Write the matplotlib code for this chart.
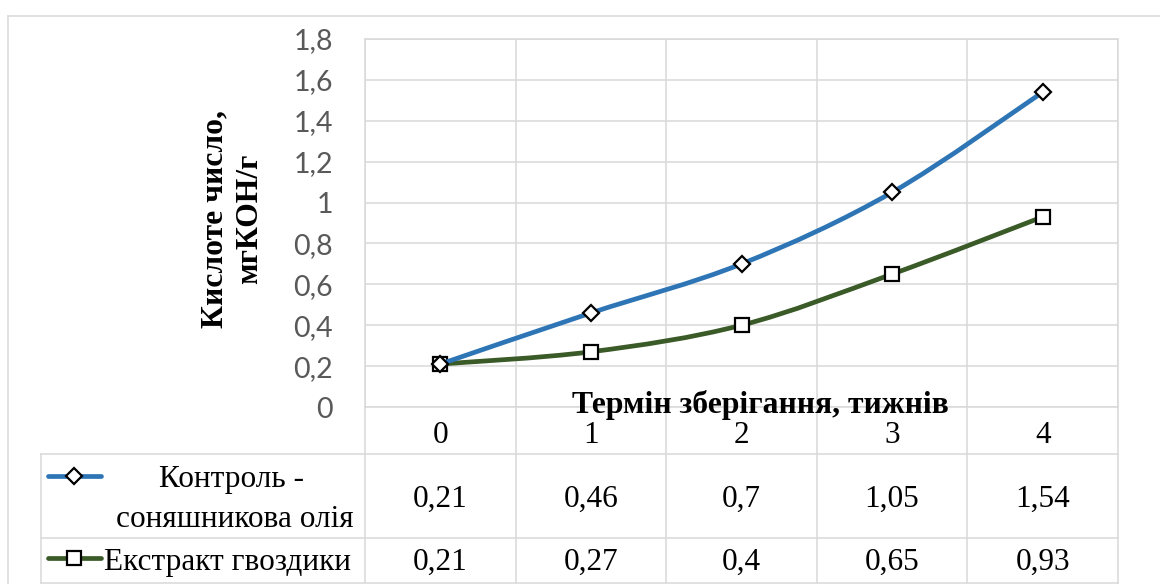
import matplotlib
matplotlib.use("Agg")
import matplotlib.pyplot as plt
import numpy as np
from matplotlib.path import Path
from matplotlib.patches import PathPatch
from matplotlib.transforms import blended_transform_factory

# ---- data ----
weeks = [0, 1, 2, 3, 4]
control = [0.21, 0.46, 0.7, 1.05, 1.54]
clove = [0.21, 0.27, 0.4, 0.65, 0.93]
series_names = ["Контроль - \nсоняшникова олія", "Екстракт гвоздики"]
y_ticks = [0, 0.2, 0.4, 0.6, 0.8, 1.0, 1.2, 1.4, 1.6, 1.8]
x_title = "Термін зберігання, тижнів"
y_title = "Кислоте число,\nмгКОН/г"

# ---- style ----
W, H = 1160, 584
BLUE = "#2E75B6"
GREEN = "#3A5A27"
GRID = "#D9D9D9"
TICK = "#595959"
SERIF = "Liberation Serif"
SANS = "Lato"
GRID_LW = 1.1
TXT = 22.5
LW = 3.4
D_SIZE, S_SIZE = 8.5, 10


def fmt(v):
    s = f"{v:g}"
    return s.replace(".", ",")


def smooth_path(xs, ys):
    """Catmull-Rom style cubic Bezier path through the given points."""
    pts = np.column_stack([xs, ys]).astype(float)
    n = len(pts)
    verts = [pts[0]]
    codes = [Path.MOVETO]
    for i in range(n - 1):
        p0 = pts[max(i - 1, 0)]
        p1 = pts[i]
        p2 = pts[i + 1]
        p3 = pts[min(i + 2, n - 1)]
        c1 = p1 + (p2 - p0) / 6.0
        c2 = p2 - (p3 - p1) / 6.0
        verts += [c1, c2, p2]
        codes += [Path.CURVE4] * 3
    return Path(verts, codes)


fig = plt.figure(figsize=(W / 100, H / 100), dpi=100)

# overlay in pixel coordinates (y downward) for the data table and frame
ov = fig.add_axes([0, 0, 1, 1], zorder=0)
ov.set_xlim(0, W)
ov.set_ylim(H, 0)
ov.axis("off")

# plot area
PL, PR, PT, PB = 365, 1118, 39, 407
ax = fig.add_axes([PL / W, (H - PB) / H, (PR - PL) / W, (PB - PT) / H], zorder=1)
ax.patch.set_alpha(0)
ax.set_xlim(-0.5, len(weeks) - 0.5)
ax.set_ylim(0, 1.8)
ax.set_yticks(y_ticks)
ax.set_yticklabels([fmt(v) for v in y_ticks], fontfamily=SANS, fontsize=20.5, color=TICK)
ax.tick_params(axis="y", length=0, pad=23)
ax.set_xticks([])
ax.set_xticks(np.arange(-0.5, len(weeks), 1.0), minor=True)
ax.tick_params(axis="x", which="both", length=0, labelbottom=False)
ax.grid(True, axis="y", color=GRID, lw=GRID_LW, zorder=0)
ax.grid(True, axis="x", which="minor", color=GRID, lw=GRID_LW, zorder=0)
for sp in ax.spines.values():
    sp.set_color(GRID)
    sp.set_linewidth(GRID_LW)

# series lines (smoothed) and markers
ax.add_patch(PathPatch(smooth_path(weeks, clove), fill=False, edgecolor=GREEN,
                       lw=LW, capstyle="round", joinstyle="round", zorder=3))
ax.plot(weeks, clove, linestyle="none", marker="s", markersize=S_SIZE,
        markerfacecolor="white", markeredgecolor="black", markeredgewidth=1.6, zorder=4)
ax.add_patch(PathPatch(smooth_path(weeks, control), fill=False, edgecolor=BLUE,
                       lw=LW, capstyle="round", joinstyle="round", zorder=5))
ax.plot(weeks, control, linestyle="none", marker="D", markersize=D_SIZE,
        markerfacecolor="white", markeredgecolor="black", markeredgewidth=1.6, zorder=6)

# ---- chart frame ----
ov.plot([8, W], [16, 16], color=GRID, lw=GRID_LW)
ov.plot([8, 8], [16, H], color=GRID, lw=GRID_LW)

# ---- data table ----
tr = blended_transform_factory(ax.transData, ov.transData)
ROW_TOP, ROW1, ROW2, ROW_END = PB, 454, 538, 583
TL = 41
for b in np.arange(-0.5, len(weeks), 1.0):
    ov.plot([b, b], [ROW_TOP, ROW_END], color=GRID, lw=GRID_LW, transform=tr)
for yy in (ROW1, ROW2, ROW_END):
    ov.plot([TL, PR], [yy, yy], color=GRID, lw=GRID_LW)
ov.plot([TL, TL], [ROW1, ROW_END], color=GRID, lw=GRID_LW)

for i, w in enumerate(weeks):
    ov.text(w, 443, str(w), transform=tr, ha="center", va="baseline",
            fontfamily=SERIF, fontsize=TXT, color="black")
    ov.text(w, 507, fmt(control[i]), transform=tr, ha="center", va="baseline",
            fontfamily=SERIF, fontsize=TXT, color="black")
    ov.text(w, 570, fmt(clove[i]), transform=tr, ha="center", va="baseline",
            fontfamily=SERIF, fontsize=TXT, color="black")

# legend keys inside the table
ov.plot([48, 101], [476, 476], color=BLUE, lw=LW, solid_capstyle="round")
ov.plot([74], [476], marker="D", markersize=D_SIZE, markerfacecolor="white",
        markeredgecolor="black", markeredgewidth=1.6, linestyle="none")
ov.plot([48, 101], [558, 558], color=GREEN, lw=LW, solid_capstyle="round")
ov.plot([74], [558], marker="s", markersize=S_SIZE, markerfacecolor="white",
        markeredgecolor="black", markeredgewidth=1.6, linestyle="none")

ov.text(235, 487, series_names[0].split("\n")[0], ha="center", va="baseline",
        fontfamily=SERIF, fontsize=TXT, color="black")
ov.text(235, 527, series_names[0].split("\n")[1], ha="center", va="baseline",
        fontfamily=SERIF, fontsize=TXT, color="black")
ov.text(104, 570, series_names[1], ha="left", va="baseline",
        fontfamily=SERIF, fontsize=TXT, color="black")

# ---- axis titles ----
fig.text(760.5 / W, 1 - 413 / H, x_title, ha="center", va="baseline",
         fontfamily=SERIF, fontweight="bold", fontsize=22.8, color="black", zorder=10)
fig.text(232 / W, 1 - 219 / H, y_title, ha="center", va="center", rotation=90,
         multialignment="center", linespacing=1.25,
         fontfamily=SERIF, fontweight="bold", fontsize=22.8, color="black")

fig.savefig("out.png", dpi=100)
